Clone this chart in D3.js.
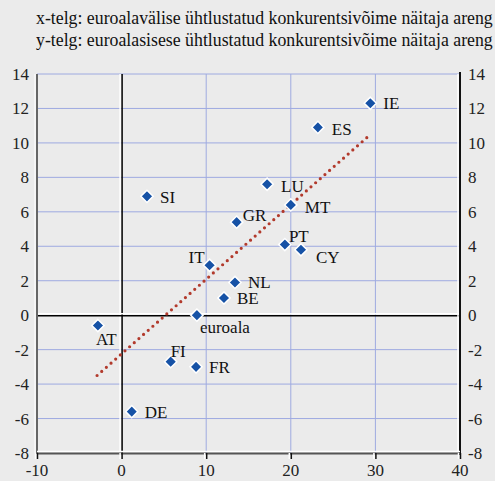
<!DOCTYPE html>
<html lang="et">
<head>
<meta charset="UTF-8">
<title>Konkurentsivõime</title>
<style>
  body { margin: 0; background: #ebebeb; }
  svg { display: block; font-family: "Liberation Serif", "Times New Roman", serif; }
</style>
</head>
<body>
<script src="https://d3js.org/d3.v7.min.js"></script>
<script>
    // Data
    const countries = ["IE", "ES", "LU", "MT", "GR", "SI", "PT", "CY", "IT", "NL", "BE", "euroala", "AT", "FI", "FR", "DE"];
    const xValues = [29.4, 23.2, 17.2, 20.0, 13.6, 3.0, 19.3, 21.2, 10.4, 13.4, 12.1, 8.9, -2.8, 5.8, 8.8, 1.2];
    const yValues = [12.3, 10.9, 7.6, 6.4, 5.4, 6.9, 4.1, 3.8, 2.9, 1.9, 1.0, 0.0, -0.6, -2.7, -3.0, -5.6];
    const trendX = [-2.9, 29.2];
    const trendY = [-3.5, 10.4];
    const xTicks = [-10, 0, 10, 20, 30, 40];
    const yTicks = [-8, -6, -4, -2, 0, 2, 4, 6, 8, 10, 12, 14];
    const titleLines = [
        "x-telg: euroalavälise ühtlustatud konkurentsivõime näitaja areng",
        "y-telg: euroalasisese ühtlustatud konkurentsivõime näitaja areng"
    ];

    // label offsets relative to point (dx, dy, anchor)
    const labelPos = {
        IE: [13, 6, "start"], ES: [14, 8, "start"], LU: [14, 8, "start"], MT: [14, 8, "start"],
        GR: [6, -1, "start"], SI: [13, 7, "start"], PT: [4, -3, "start"], CY: [15, 13, "start"],
        IT: [-5, -2, "end"], NL: [13, 6, "start"], BE: [13, 6, "start"], euroala: [3, 18, "start"],
        AT: [-2, 19, "start"], FI: [0, -5, "start"], FR: [13, 6, "start"], DE: [13, 6, "start"]
    };

    const width = 495, height = 481;
    const margin = {top: 74, right: 35, bottom: 28, left: 37};

    const x = d3.scaleLinear().domain([-10, 40]).range([margin.left, width - margin.right]);
    const y = d3.scaleLinear().domain([-8, 14]).range([height - margin.bottom, margin.top]);

    const svg = d3.select("body").append("svg")
        .attr("width", width)
        .attr("height", height);

    // title
    svg.selectAll(".title")
        .data(titleLines)
        .enter().append("text")
        .attr("x", 36)
        .attr("y", (d, i) => 24 + i * 22)
        .attr("font-size", 17.8)
        .attr("fill", "#111")
        .text(d => d);

    const grid = "#9eaae0";

    // horizontal grid
    svg.selectAll(".hgrid")
        .data(yTicks.filter(t => t !== 0 && t !== -8))
        .enter().append("line")
        .attr("x1", x(-10)).attr("x2", x(40))
        .attr("y1", d => y(d)).attr("y2", d => y(d))
        .attr("stroke", grid).attr("stroke-width", 1);

    // vertical grid
    svg.selectAll(".vgrid")
        .data(xTicks.filter(t => t > 0 && t < 40))
        .enter().append("line")
        .attr("x1", d => x(d)).attr("x2", d => x(d))
        .attr("y1", y(14)).attr("y2", y(-8))
        .attr("stroke", grid).attr("stroke-width", 1);

    // zero lines with white shadow
    svg.append("line")
        .attr("x1", x(0) - 1.5).attr("x2", x(0) - 1.5)
        .attr("y1", y(14)).attr("y2", y(-8))
        .attr("stroke", "#fff").attr("stroke-width", 1.5);
    svg.append("line")
        .attr("x1", x(0) + 0.5).attr("x2", x(0) + 0.5)
        .attr("y1", y(14)).attr("y2", y(-8))
        .attr("stroke", "#000").attr("stroke-width", 1.5);
    svg.append("line")
        .attr("x1", x(-10)).attr("x2", x(40))
        .attr("y1", y(0) - 1.5).attr("y2", y(0) - 1.5)
        .attr("stroke", "#fff").attr("stroke-width", 1.5);
    svg.append("line")
        .attr("x1", x(-10)).attr("x2", x(40))
        .attr("y1", y(0) + 0.5).attr("y2", y(0) + 0.5)
        .attr("stroke", "#000").attr("stroke-width", 1.5);

    // axes frame
    // left
    svg.append("line").attr("x1", x(-10) - 2).attr("x2", x(-10) - 2).attr("y1", y(14)).attr("y2", y(-8))
        .attr("stroke", "#fff").attr("stroke-width", 1);
    svg.append("line").attr("x1", x(-10)).attr("x2", x(-10)).attr("y1", y(14)).attr("y2", y(-8) + 1)
        .attr("stroke", "#666").attr("stroke-width", 2);
    // right
    svg.append("line").attr("x1", x(40) - 2).attr("x2", x(40) - 2).attr("y1", y(14)).attr("y2", y(-8))
        .attr("stroke", "#fff").attr("stroke-width", 1.5);
    svg.append("line").attr("x1", x(40)).attr("x2", x(40)).attr("y1", y(14) - 2).attr("y2", y(-8) + 2)
        .attr("stroke", "#111").attr("stroke-width", 2);
    // bottom
    svg.append("line").attr("x1", x(-10)).attr("x2", x(40)).attr("y1", y(-8) - 1.5).attr("y2", y(-8) - 1.5)
        .attr("stroke", "#fff").attr("stroke-width", 1.5);
    svg.append("line").attr("x1", x(-10)).attr("x2", x(40)).attr("y1", y(-8) + 0.5).attr("y2", y(-8) + 0.5)
        .attr("stroke", "#555").attr("stroke-width", 2);

    // x ticks
    svg.selectAll(".xtickw")
        .data(xTicks)
        .enter().append("line")
        .attr("x1", d => x(d) - 1.5).attr("x2", d => x(d) - 1.5)
        .attr("y1", y(-8)).attr("y2", y(-8) + 6)
        .attr("stroke", "#fff").attr("stroke-width", 1.5);
    svg.selectAll(".xtick")
        .data(xTicks)
        .enter().append("line")
        .attr("x1", d => x(d) + 0.5).attr("x2", d => x(d) + 0.5)
        .attr("y1", y(-8)).attr("y2", y(-8) + 6)
        .attr("stroke", "#111").attr("stroke-width", 1.5);

    svg.selectAll(".xlabel")
        .data(xTicks)
        .enter().append("text")
        .attr("x", d => x(d))
        .attr("y", 476)
        .attr("text-anchor", "middle")
        .attr("font-size", 17)
        .attr("fill", "#222")
        .text(d => d);

    // y tick labels, both sides
    svg.selectAll(".ylabelL")
        .data(yTicks)
        .enter().append("text")
        .attr("x", 29)
        .attr("y", d => y(d) + 6)
        .attr("text-anchor", "end")
        .attr("font-size", 17)
        .attr("fill", "#222")
        .text(d => d);
    svg.selectAll(".ylabelR")
        .data(yTicks)
        .enter().append("text")
        .attr("x", 468)
        .attr("y", d => y(d) + 6)
        .attr("text-anchor", "start")
        .attr("font-size", 17)
        .attr("fill", "#222")
        .text(d => d);

    // trend line, dotted
    const trend = d3.line().x(d => x(d[0])).y(d => y(d[1]));
    svg.append("path")
        .attr("d", trend(d3.zip(trendX, trendY)))
        .attr("fill", "none")
        .attr("stroke", "#b23a2c")
        .attr("stroke-width", 3.2)
        .attr("stroke-linecap", "round")
        .attr("stroke-dasharray", "0 6.2");

    const points = countries.map((c, i) => ({name: c, x: xValues[i], y: yValues[i]}));

    // markers
    const diamond = d3.symbol().type(d3.symbolDiamond2).size(95);
    svg.selectAll(".pt")
        .data(points)
        .enter().append("path")
        .attr("transform", d => `translate(${x(d.x)},${y(d.y)})`)
        .attr("d", diamond)
        .attr("fill", "#1652a6")
        .attr("stroke", "#fff")
        .attr("stroke-width", 1.5);

    // labels
    svg.selectAll(".lbl")
        .data(points)
        .enter().append("text")
        .attr("x", d => x(d.x) + labelPos[d.name][0])
        .attr("y", d => y(d.y) + labelPos[d.name][1])
        .attr("text-anchor", d => labelPos[d.name][2])
        .attr("font-size", 17)
        .attr("fill", "#111")
        .text(d => d.name);
</script>
</body>
</html>
